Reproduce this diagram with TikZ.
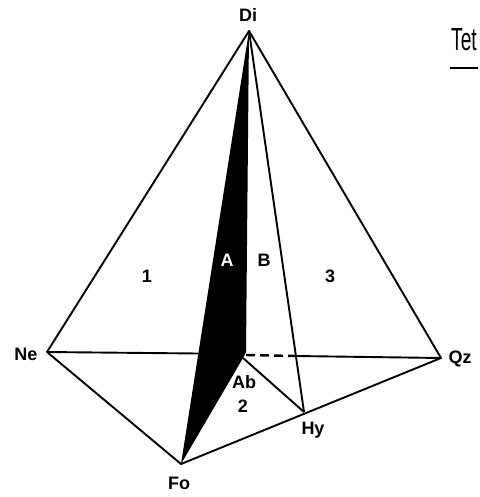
\documentclass[tikz,border=0pt]{standalone}
\usepackage{fontspec}
\setmainfont{Liberation Sans}
\begin{document}
\begin{tikzpicture}[x=1pt,y=-1pt,
  lab/.style={font=\fontsize{18}{18}\selectfont\bfseries,inner sep=0pt},
  edge/.style={line width=1.9pt,line join=round}]
\useasboundingbox (0,0) rectangle (479,497);
\coordinate (Di) at (249,31);
\coordinate (Ne) at (47,352);
\coordinate (Qz) at (441,358);
\coordinate (Fo) at (181,464);
\coordinate (Hy) at (304,412);
\coordinate (Ab) at (243,358);
\coordinate (Ak) at (246,352);
\coordinate (L) at (198,353.5);
\coordinate (D1) at (246,355);
\coordinate (D2) at (296,356);
\draw[edge] (Di) -- (Ne) -- (Fo) -- (Qz) -- cycle;
\draw[edge] (Di) -- (Hy);
\draw[edge] (Ab) -- (Hy);
\draw[edge] (Ne) -- (L);
\draw[line width=2.4pt,dash pattern=on 9pt off 5pt] (D1) -- (D2);
\draw[edge] (D2) -- (Qz);
\fill[black] (Di) -- (Fo) -- (Ab) -- (Ak) -- cycle;
\node[lab] (nDi) at (248,15) {Di};
\node[lab] (nNe) at (26,354) {Ne};
\node[lab] (nQz) at (460,359) {Qz};
\node[lab] (nFo) at (179,483) {Fo};
\node[lab] (nHy) at (313,430) {Hy};
\node[lab] (nAb) at (244,382) {Ab};
\node[lab] (n2) at (243,406) {2};
\node[lab] (n1) at (147,276) {1};
\node[lab] (n3) at (330,276) {3};
\node[lab,text=white] (nA) at (227,260) {A};
\node[lab] (nB) at (264,260) {B};
\node[inner sep=0pt] (tet) at (464,40) {\scalebox{0.6}[1]{\fontsize{32}{32}\selectfont Tet}};
\coordinate (u1) at (450,68);
\coordinate (u2) at (478,68);
\draw[line width=1.9pt] (u1) -- (u2);
\end{tikzpicture}
\end{document}
